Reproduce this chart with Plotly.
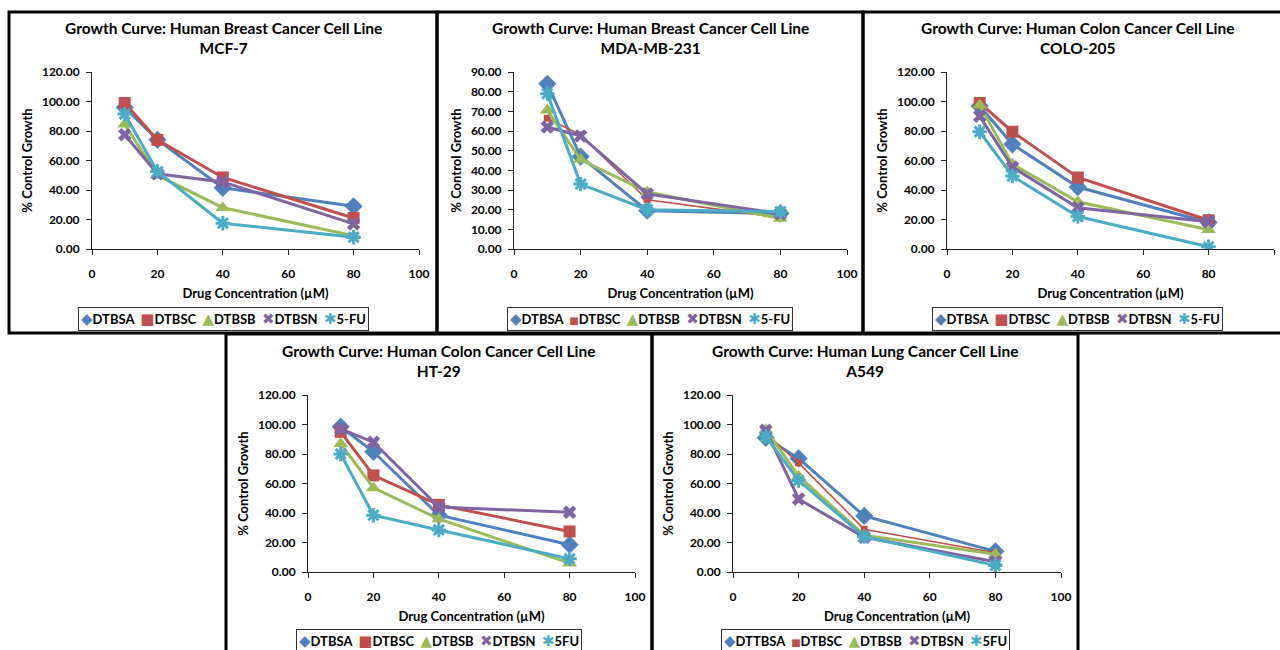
import plotly.graph_objects as go

W, H = 1280, 650

# ---------------- data ----------------
conc = [10, 20, 40, 80]
colors = ["#4F81BD", "#C0504D", "#9BBB59", "#8064A2", "#4BACC6"]
symbols = ["diamond", "square", "triangle-up", "x", "asterisk-open"]
legend_glyphs = ["◆", "■", "▲", "✖", "✱"]

names_a = ["DTBSA", "DTBSC", "DTBSB", "DTBSN", "5-FU"]
names_b = ["DTBSA", "DTBSC", "DTBSB", "DTBSN", "5FU"]
names_c = ["DTTBSA", "DTBSC", "DTBSB", "DTBSN", "5FU"]

# MCF-7
mcf7_dtbsa = [96, 74, 41.5, 29]
mcf7_dtbsc = [99, 74, 48.5, 21]
mcf7_dtbsb = [84.5, 50, 28, 9]
mcf7_dtbsn = [77.5, 51, 45.5, 17]
mcf7_5fu = [91.5, 52.5, 17.5, 8]

# MDA-MB-231
mda_dtbsa = [84, 47, 19.5, 18]
mda_dtbsc = [66.5, 58, 25, 16]
mda_dtbsb = [70.5, 45.5, 29, 15.5]
mda_dtbsn = [62, 57.5, 28, 18]
mda_5fu = [79, 33, 20, 19]

# COLO-205
colo_dtbsa = [97, 71, 42, 18]
colo_dtbsc = [99, 79.5, 48.5, 19.5]
colo_dtbsb = [97.5, 57.5, 32, 13]
colo_dtbsn = [90, 55.5, 28, 18.5]
colo_5fu = [79.5, 49.5, 22, 1.5]

# HT-29
ht29_dtbsa = [98.5, 81.5, 38.5, 18.5]
ht29_dtbsc = [95, 65.5, 45.5, 27.5]
ht29_dtbsb = [87, 57, 36, 6]
ht29_dtbsn = [97, 88, 44, 40.5]
ht29_5fu = [80, 38.5, 28.5, 9]

# A549
a549_dtbsa = [91, 77, 38, 14]
a549_dtbsc = [94, 74, 29, 13]
a549_dtbsb = [96.5, 65, 25, 12]
a549_dtbsn = [96, 49.5, 23.5, 7]
a549_5fu = [92, 62, 24, 4.5]

panels = [
    dict(title="Growth Curve: Human Breast Cancer Cell Line<br>MCF-7",
         names=names_a, data=[mcf7_dtbsa, mcf7_dtbsc, mcf7_dtbsb, mcf7_dtbsn, mcf7_5fu],
         ymax=120, dtick=20, thin_red=False,
         plot=(92, 419, 72, 249), box=(9, 12, 437, 333), legy=319.5),
    dict(title="Growth Curve: Human Breast Cancer Cell Line<br>MDA-MB-231",
         names=names_a, data=[mda_dtbsa, mda_dtbsc, mda_dtbsb, mda_dtbsn, mda_5fu],
         ymax=90, dtick=10, thin_red=True,
         plot=(514, 847, 72, 249), box=(437, 12, 863, 333), legy=319.5),
    dict(title="Growth Curve: Human Colon Cancer Cell Line<br>COLO-205",
         names=names_a, data=[colo_dtbsa, colo_dtbsc, colo_dtbsb, colo_dtbsn, colo_5fu],
         ymax=120, dtick=20, thin_red=False,
         plot=(947, 1274, 72, 249), box=(863, 12, 1292, 333), legy=319.5),
    dict(title="Growth Curve: Human Colon Cancer Cell Line<br>HT-29",
         names=names_b, data=[ht29_dtbsa, ht29_dtbsc, ht29_dtbsb, ht29_dtbsn, ht29_5fu],
         ymax=120, dtick=20, thin_red=False,
         plot=(308, 635, 395, 572), box=(226, 334, 652, 662), legy=641),
    dict(title="Growth Curve: Human Lung Cancer Cell Line<br>A549",
         names=names_c, data=[a549_dtbsa, a549_dtbsc, a549_dtbsb, a549_dtbsn, a549_5fu],
         ymax=120, dtick=20, thin_red=True,
         plot=(733, 1061, 395, 572), box=(652, 334, 1078, 662), legy=641),
]

FONT = "Lato"
SYMFONT = "DejaVu Sans"


def px(x):
    return x / W


def py(y):
    return 1 - y / H


fig = go.Figure()
layout = dict(
    width=W, height=H, autosize=False,
    margin=dict(l=0, r=0, t=0, b=0, autoexpand=False),
    paper_bgcolor="white", plot_bgcolor="white",
    font=dict(family=FONT, size=12, color="black"),
    showlegend=False,
    shapes=[], annotations=[],
)

tickfont = dict(family=FONT, size=12, color="black", weight="bold")
titlefont = dict(family=FONT, size=13, color="black", weight="bold")

for i, p in enumerate(panels):
    k = i + 1
    xa = "x" if k == 1 else f"x{k}"
    ya = "y" if k == 1 else f"y{k}"
    x0, x1, y0, y1 = p["plot"]
    bx0, by0, bx1, by1 = p["box"]

    legend_parts = []
    for j in range(5):
        thin = p["thin_red"] and j == 1
        msize = [14, 12, 13, 12, 12][j]
        if thin:
            msize = 7
        mk = dict(symbol=symbols[j], size=msize, color=colors[j],
                  line=dict(color=colors[j], width=3 if symbols[j] == "asterisk-open" else 0))
        fig.add_trace(go.Scatter(
            x=conc, y=p["data"][j], name=p["names"][j],
            mode="lines+markers", xaxis=xa, yaxis=ya,
            line=dict(color=colors[j], width=1.6 if thin else 3),
            marker=mk,
        ))
        gsize = 10 if thin else 15
        legend_parts.append(
            f"<span style=\"color:{colors[j]};font-family:'{SYMFONT}';font-size:{gsize}px\">"
            f"{legend_glyphs[j]}</span>{p['names'][j]}"
        )

    layout["xaxis" if k == 1 else f"xaxis{k}"] = dict(
        domain=[px(x0), px(x1)], anchor=ya, range=[0, 100], dtick=20, tick0=0,
        showgrid=False, zeroline=False, showline=True, linecolor="#222", linewidth=1,
        ticks="outside", ticklen=5, tickcolor="#222", automargin=False,
        ticklabelstandoff=9,
        tickfont=tickfont,
        title=dict(text="Drug Concentration (µM)", standoff=8, font=titlefont),
        fixedrange=True,
    )
    layout["yaxis" if k == 1 else f"yaxis{k}"] = dict(
        domain=[py(y1), py(y0)], anchor=xa, range=[0, p["ymax"]], dtick=p["dtick"], tick0=0,
        tickformat=".2f",
        showgrid=False, zeroline=False, showline=True, linecolor="#222", linewidth=1,
        ticks="outside", ticklen=5, tickcolor="#222", automargin=False,
        ticklabelstandoff=4,
        tickfont=tickfont,
        title=dict(text="% Control Growth", standoff=6, font=titlefont),
        fixedrange=True,
    )
    # legend box (series names + colours from the data lists)
    layout["annotations"].append(dict(
        text="  ".join(legend_parts), x=px((bx0 + bx1) / 2), y=py(p["legy"]),
        xref="paper", yref="paper", xanchor="center", yanchor="middle",
        showarrow=False, bgcolor="white", bordercolor="#333", borderwidth=1, borderpad=2,
        font=dict(family=FONT, size=13, color="black", weight="bold"),
    ))
    layout["annotations"].append(dict(
        text=p["title"], x=px((bx0 + bx1) / 2), y=py(37.5 if k <= 3 else 360.5),
        xref="paper", yref="paper", xanchor="center", yanchor="middle",
        showarrow=False, font=dict(family=FONT, size=15.5, color="black", weight="bold"),
    ))
    layout["shapes"].append(dict(
        type="rect", xref="paper", yref="paper",
        x0=px(bx0), x1=px(bx1), y0=py(by1), y1=py(by0),
        line=dict(color="black", width=3), fillcolor="rgba(0,0,0,0)", layer="below",
    ))

fig.update_layout(**layout)
fig.write_html(
    "out.html",
    config={"displayModeBar": False, "staticPlot": True},
    post_script="document.body.style.margin='0';document.body.style.overflow='hidden';",
)
